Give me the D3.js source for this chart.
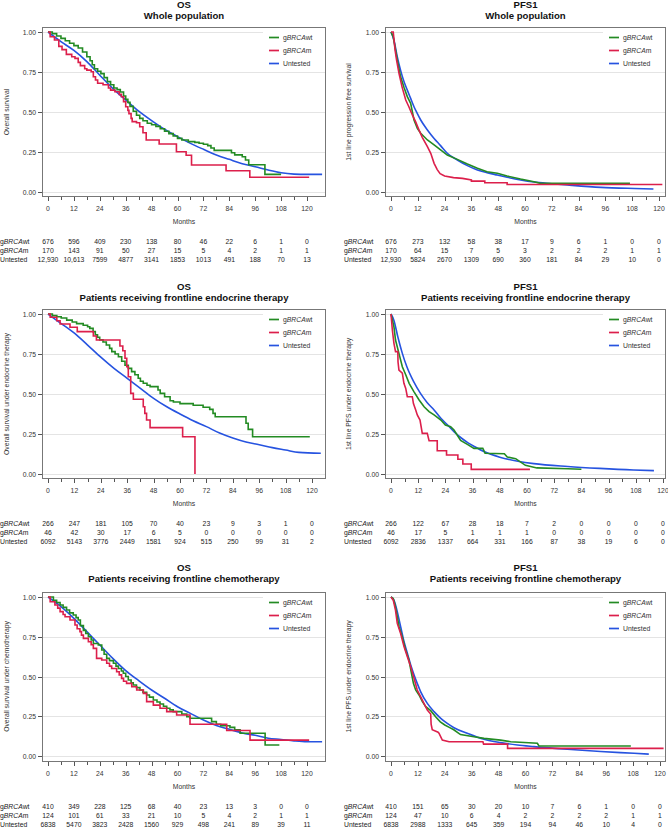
<!DOCTYPE html>
<html><head><meta charset="utf-8">
<script src="https://cdn.jsdelivr.net/npm/d3@7"></script>
<style>
body{margin:0;background:#fff;}
svg{display:block;font-family:"Liberation Sans",Arial,Helvetica,sans-serif;}
</style>
</head><body>
<svg id="c" width="668" height="828"></svg>
<script>
// ---------- shared labels ----------
const monthTicks = [0,12,24,36,48,60,72,84,96,108,120];
const minorTicks = [6,18,30,42,54,66,78,90,102,114];
const yTicks = [0,0.25,0.5,0.75,1];
const groups = ["gBRCAwt","gBRCAm","Untested"];

// ---------- OS, whole population ----------
const os_all_wt = [[0,1],[2,0.99],[4,0.975],[6,0.96],[8,0.945],[10,0.93],[12,0.915],[14,0.9],[16,0.875],[18,0.845],[19.5,0.82],[20.5,0.795],[21.5,0.77],[23,0.755],[24.5,0.74],[26,0.715],[27.5,0.69],[29,0.67],[30.5,0.65],[32,0.64],[33.5,0.625],[35,0.6],[36,0.58],[37,0.56],[38,0.535],[39.5,0.505],[41,0.48],[42.5,0.46],[44,0.445],[46,0.43],[48,0.42],[50,0.41],[52,0.395],[54,0.38],[56,0.365],[58,0.35],[60,0.335],[62,0.325],[65,0.315],[68,0.31],[70,0.305],[72,0.298],[74,0.29],[75.5,0.275],[77,0.26],[85,0.245],[86.5,0.232],[90,0.22],[91.5,0.2],[93,0.17],[100.5,0.11],[108,0.11]];
const os_all_m = [[0,1],[1,0.97],[3,0.95],[5,0.91],[6.5,0.89],[8.5,0.86],[11,0.845],[12.5,0.835],[14,0.81],[15,0.79],[17,0.77],[18,0.762],[20,0.752],[21,0.72],[22,0.7],[23,0.68],[25.5,0.67],[28,0.65],[29,0.637],[31,0.627],[33,0.61],[34,0.595],[35,0.565],[36,0.533],[37,0.51],[37.5,0.49],[38.5,0.46],[39,0.44],[41,0.433],[42.5,0.408],[44,0.37],[45.5,0.325],[51.5,0.3],[59.5,0.252],[64,0.23],[66.5,0.169],[82.5,0.133],[93.5,0.092],[121,0.092]];
const os_all_un = [[0,1],[6,0.94],[12,0.885],[18,0.815],[24,0.73],[30,0.648],[36,0.575],[42,0.505],[48,0.446],[54,0.392],[60,0.346],[66,0.304],[72,0.267],[78,0.232],[84,0.204],[90,0.177],[96,0.158],[102,0.137],[108,0.12],[114,0.112],[120,0.11],[127,0.11]];
const risk_os_all_wt = [676,596,409,230,138,80,46,22,6,1,0];
const risk_os_all_m = [170,143,91,50,27,15,5,4,2,1,1];
const risk_os_all_un = [12930,10613,7599,4877,3141,1853,1013,491,188,70,13];

// ---------- PFS1, whole population ----------
const pfs_all_wt = [[0,1],[1,0.97],[2,0.89],[2.8,0.825],[4.3,0.72],[5.8,0.654],[7.3,0.596],[8.8,0.554],[10.3,0.45],[11.8,0.398],[13.3,0.367],[16.3,0.325],[19.3,0.294],[22.2,0.263],[25.2,0.231],[29.7,0.204],[34.2,0.175],[38.7,0.148],[43,0.127],[47.6,0.117],[52,0.1],[58,0.081],[64,0.064],[67,0.054],[107,0.054]];
const pfs_all_m = [[0,1],[1,1],[1.8,0.89],[2.5,0.825],[3.6,0.74],[5,0.654],[6.6,0.575],[8,0.533],[9.6,0.48],[11,0.44],[12.5,0.388],[14,0.342],[16.3,0.283],[17.8,0.242],[19.3,0.179],[20.7,0.14],[22,0.115],[24,0.1],[28,0.09],[32,0.085],[36,0.075],[36,0.068],[42,0.068],[42,0.058],[52,0.058],[52,0.047],[121.5,0.047]];
const pfs_all_un = [[0,1],[1.3,0.95],[2.8,0.846],[4.3,0.76],[5.8,0.69],[7.3,0.637],[8.8,0.585],[10.3,0.533],[11.8,0.49],[13.3,0.45],[16.3,0.388],[19.3,0.335],[22.2,0.29],[25.2,0.242],[29.7,0.2],[34.2,0.165],[38.7,0.138],[43,0.121],[47.6,0.106],[52,0.092],[58,0.075],[64,0.062],[72,0.052],[79,0.044],[94,0.029],[109,0.022],[117.5,0.019]];
const risk_pfs_all_wt = [676,273,132,58,38,17,9,6,1,0,0];
const risk_pfs_all_m = [170,64,15,7,5,3,2,2,2,1,1];
const risk_pfs_all_un = [12930,5824,2670,1309,690,360,181,84,29,10,0];

// ---------- OS, frontline endocrine therapy ----------
const os_endo_wt = [[0,1],[2,0.99],[4,0.983],[6,0.975],[8.5,0.962],[11,0.95],[13,0.94],[16,0.93],[18,0.92],[19,0.91],[20.5,0.89],[21.5,0.87],[22.5,0.855],[23.5,0.838],[25,0.825],[26.5,0.806],[28,0.785],[29,0.765],[30.5,0.75],[32,0.733],[33.5,0.705],[35,0.68],[36.5,0.66],[38,0.64],[39.5,0.62],[41,0.598],[42,0.58],[43.3,0.567],[45,0.555],[46.4,0.546],[50,0.525],[51,0.504],[53,0.483],[55.5,0.458],[57,0.45],[60,0.44],[66,0.43],[70.5,0.417],[73.5,0.404],[75,0.379],[76,0.358],[90,0.317],[91,0.279],[93,0.233],[119,0.233]];
const os_endo_m = [[0,1],[1,0.98],[4,0.958],[5.5,0.9375],[10,0.917],[13.3,0.89],[20.6,0.8625],[22,0.8375],[32.7,0.8],[34,0.77],[35,0.723],[35.8,0.67],[36.5,0.608],[37.6,0.504],[38.8,0.467],[43.3,0.42],[44,0.379],[44.8,0.3375],[46.4,0.29],[61.2,0.233],[66.8,0]];
const os_endo_un = [[0,1],[6,0.94],[12,0.88],[18,0.806],[24,0.73],[30,0.66],[36,0.598],[42,0.535],[48,0.473],[54,0.42],[60,0.375],[66,0.333],[72,0.296],[78,0.256],[84,0.225],[90,0.2],[96,0.183],[102,0.165],[108,0.15],[114,0.135],[124,0.13]];
const risk_os_endo_wt = [266,247,181,105,70,40,23,9,3,1,0];
const risk_os_endo_m = [46,42,30,17,6,5,0,0,0,0,0];
const risk_os_endo_un = [6092,5143,3776,2449,1581,924,515,250,99,31,2];

// ---------- PFS1, frontline endocrine therapy ----------
const pfs_endo_wt = [[0,1],[1.3,0.92],[2,0.8375],[3.5,0.754],[5,0.67],[6.5,0.62],[8,0.567],[10.1,0.515],[12.4,0.4625],[14.6,0.42],[16.8,0.39],[19,0.369],[22,0.3375],[24,0.306],[26.3,0.296],[27.8,0.275],[30.7,0.21],[33.7,0.185],[36.6,0.16],[40.5,0.16],[41.5,0.13],[50,0.127],[51.3,0.106],[55,0.096],[59.3,0.054],[64.4,0.038],[78,0.033],[84,0.03]];
const pfs_endo_m = [[0,1],[0.6,0.9],[1.3,0.817],[2,0.765],[3,0.765],[3.1,0.7],[3.5,0.65],[5,0.63],[5.7,0.567],[6.5,0.535],[7.2,0.483],[9.4,0.483],[9.9,0.44],[10.9,0.4],[11.6,0.369],[12.8,0.3375],[13.8,0.254],[16,0.254],[16.8,0.208],[20.4,0.208],[20.4,0.145],[24.5,0.145],[24.5,0.119],[29.5,0.119],[29.5,0.092],[31.7,0.092],[31.7,0.0625],[35.4,0.0625],[35.4,0.029],[61.3,0.029]];
const pfs_endo_un = [[0,1],[1.3,0.96],[3,0.858],[5,0.754],[7,0.67],[10,0.577],[13,0.504],[16,0.446],[19,0.4],[22,0.348],[25,0.306],[28,0.262],[31,0.225],[34,0.195],[37,0.17],[41,0.14],[48,0.105],[56,0.08],[63,0.065],[78,0.047],[92,0.035],[107,0.025],[116,0.021]];
const risk_pfs_endo_wt = [266,122,67,28,18,7,2,0,0,0,0];
const risk_pfs_endo_m = [46,17,5,1,1,1,0,0,0,0,0];
const risk_pfs_endo_un = [6092,2836,1337,664,331,166,87,38,19,6,0];

// ---------- OS, frontline chemotherapy ----------
const os_chemo_wt = [[0,1],[2.5,0.98],[4,0.965],[5.6,0.95],[7,0.935],[8.6,0.918],[10,0.9],[11.7,0.887],[13,0.87],[14,0.855],[15,0.82],[16.4,0.79],[17.5,0.77],[18.7,0.75],[20,0.73],[21,0.708],[23.3,0.698],[24.9,0.667],[26,0.64],[27.2,0.614],[28.5,0.6],[30.3,0.583],[31.5,0.565],[32.6,0.55],[34,0.535],[34.9,0.52],[36,0.5],[37.2,0.478],[38.5,0.46],[39.5,0.447],[41,0.43],[42.6,0.415],[44,0.4],[45.7,0.384],[47,0.37],[48.8,0.352],[50.5,0.34],[51.9,0.327],[53.5,0.313],[55,0.3],[56.5,0.29],[58,0.279],[62,0.264],[64.3,0.247],[65.8,0.237],[75.8,0.216],[78,0.2],[80,0.19],[84.3,0.18],[86.5,0.165],[89,0.143],[100.6,0.069],[107.2,0.069]];
const os_chemo_m = [[0,1],[1,0.97],[3.2,0.95],[4.5,0.93],[5.6,0.908],[7,0.89],[7.9,0.876],[10.2,0.855],[12.5,0.824],[13.5,0.8],[14.8,0.782],[15.5,0.76],[16.4,0.74],[18.7,0.719],[20,0.7],[21,0.677],[22.5,0.614],[24.9,0.604],[27.2,0.583],[28.5,0.565],[29.5,0.55],[31.8,0.53],[33,0.51],[34.1,0.488],[35,0.47],[36.4,0.457],[38.8,0.436],[41.1,0.415],[44.2,0.394],[45.7,0.342],[48.8,0.32],[51.9,0.3],[55,0.279],[59.6,0.258],[65.8,0.2],[82.8,0.16],[93.6,0.1],[121,0.1]];
const os_chemo_un = [[0,1],[6,0.94],[12,0.866],[18,0.782],[24,0.698],[30,0.614],[36,0.537],[42,0.474],[48,0.415],[54,0.363],[60,0.31],[66,0.268],[72,0.226],[78,0.192],[84,0.168],[90,0.145],[96,0.13],[102,0.112],[108,0.104],[114,0.095],[120,0.09],[127,0.09]];
const risk_os_chemo_wt = [410,349,228,125,68,40,23,13,3,0,0];
const risk_os_chemo_m = [124,101,61,33,21,10,5,4,2,1,1];
const risk_os_chemo_un = [6838,5470,3823,2428,1560,929,498,241,89,39,11];

// ---------- PFS1, frontline chemotherapy ----------
const pfs_chemo_wt = [[0,1],[1,0.99],[1.8,0.95],[2.8,0.876],[3.6,0.813],[5,0.75],[6.5,0.667],[8,0.604],[9,0.53],[10,0.457],[11,0.415],[12.5,0.384],[14,0.342],[15.5,0.31],[17.7,0.285],[20,0.245],[22,0.215],[24,0.195],[26,0.18],[28,0.165],[31,0.135],[37,0.121],[41.5,0.111],[48.9,0.1],[53.4,0.09],[65.3,0.08],[66,0.063],[107,0.063]];
const pfs_chemo_m = [[0,1],[1,0.98],[2,0.918],[2.8,0.834],[4.3,0.77],[5.8,0.688],[7.3,0.625],[8.8,0.562],[10.3,0.488],[11.7,0.415],[13.2,0.373],[14.7,0.331],[16.2,0.289],[17.7,0.264],[17.9,0.2],[18.4,0.165],[21,0.15],[21.4,0.143],[22.9,0.1],[25.9,0.09],[41,0.09],[41.3,0.075],[52,0.075],[52,0.048],[121.6,0.048]];
const pfs_chemo_un = [[0,1],[1.3,0.98],[2.8,0.908],[4.3,0.813],[5.8,0.72],[7.3,0.646],[8.8,0.572],[10.3,0.509],[11.7,0.457],[13.2,0.405],[16.2,0.331],[19.2,0.279],[22.2,0.237],[25.1,0.205],[28.1,0.178],[34,0.143],[41.5,0.105],[48.9,0.084],[56.4,0.069],[63.8,0.059],[78.7,0.042],[93.5,0.028],[108.4,0.017],[115,0.012]];
const risk_pfs_chemo_wt = [410,151,65,30,20,10,7,6,1,0,0];
const risk_pfs_chemo_m = [124,47,10,6,4,2,2,2,2,1,1];
const risk_pfs_chemo_un = [6838,2988,1333,645,359,194,94,46,10,4,0];

// ---------- layout & style ----------
const colors = ["#238b23","#dc1f4b","#2653e0"];
const panels = [
  {t1:"OS",  t2:"Whole population", ylab:"Overall survival", L:42,R:326,T:27,B:197,x0:48,x120:307,y1:32,y0:192,tY:7.5, riskX:0, ylabX:9, step:true,
   series:[os_all_wt,os_all_m,os_all_un], risk:[risk_os_all_wt,risk_os_all_m,risk_os_all_un]},
  {t1:"PFS1",t2:"Whole population", ylab:"1st line progression free survival", L:385,R:666,T:27,B:197,x0:391,x120:659,y1:32,y0:192,tY:7.5, riskX:344, ylabX:351, step:false,
   series:[pfs_all_wt,pfs_all_m,pfs_all_un], risk:[risk_pfs_all_wt,risk_pfs_all_m,risk_pfs_all_un]},
  {t1:"OS",  t2:"Patients receiving frontline endocrine therapy", ylab:"Overall survival under endocrine therapy", L:42,R:326,T:309,B:479,x0:48,x120:312,y1:314,y0:474,tY:289.5, riskX:0, ylabX:9, step:true,
   series:[os_endo_wt,os_endo_m,os_endo_un], risk:[risk_os_endo_wt,risk_os_endo_m,risk_os_endo_un]},
  {t1:"PFS1",t2:"Patients receiving frontline endocrine therapy", ylab:"1st line PFS under endocrine therapy", L:385,R:666,T:309,B:479,x0:391,x120:663,y1:314,y0:474,tY:289.5, riskX:344, ylabX:351, step:false,
   series:[pfs_endo_wt,pfs_endo_m,pfs_endo_un], risk:[risk_pfs_endo_wt,risk_pfs_endo_m,risk_pfs_endo_un]},
  {t1:"OS",  t2:"Patients receiving frontline chemotherapy", ylab:"Overall survival under chemotherapy", L:42,R:326,T:592,B:762,x0:48,x120:307,y1:597,y0:756,tY:571, riskX:0, ylabX:9, step:true,
   series:[os_chemo_wt,os_chemo_m,os_chemo_un], risk:[risk_os_chemo_wt,risk_os_chemo_m,risk_os_chemo_un]},
  {t1:"PFS1",t2:"Patients receiving frontline chemotherapy", ylab:"1st line PFS under endocrine therapy", L:385,R:666,T:592,B:762,x0:391,x120:660,y1:597,y0:756,tY:571, riskX:344, ylabX:351, step:false,
   series:[pfs_chemo_wt,pfs_chemo_m,pfs_chemo_un], risk:[risk_pfs_chemo_wt,risk_pfs_chemo_m,risk_pfs_chemo_un]}
];

const svg = d3.select("#c");
const small = 6.8;

function groupLabel(sel, name){
  const m = name.match(/^g(BRCA)(.*)$/);
  if(m){
    sel.append("tspan").text("g");
    sel.append("tspan").attr("font-style","italic").text("BRCA");
    sel.append("tspan").text(m[2]);
  } else sel.text(name);
}
const fmtRisk = n => n >= 10000 ? d3.format(",")(n) : String(n);

panels.forEach(p => {
  const g = svg.append("g");
  const x = d3.scaleLinear().domain([0,120]).range([p.x0,p.x120]);
  const y = d3.scaleLinear().domain([0,1]).range([p.y0,p.y1]);
  const cx = (p.L+p.R)/2;

  g.append("text").attr("x",cx).attr("y",p.tY).attr("text-anchor","middle")
    .attr("font-size",9.6).attr("font-weight","bold").attr("fill","#111").text(p.t1);
  g.append("text").attr("x",cx).attr("y",p.tY+11).attr("text-anchor","middle")
    .attr("font-size",9.6).attr("font-weight","bold").attr("fill","#111").text(p.t2);

  g.selectAll("line.grid").data(yTicks).enter().append("line")
    .attr("x1",p.L).attr("x2",p.R)
    .attr("y1",d=>Math.round(y(d))+0.5).attr("y2",d=>Math.round(y(d))+0.5)
    .attr("stroke","#e4e4e4").attr("stroke-width",1);

  yTicks.forEach(t=>{
    const yy = Math.round(y(t))+0.5;
    g.append("line").attr("x1",p.L-4).attr("x2",p.L).attr("y1",yy).attr("y2",yy).attr("stroke","#555");
    g.append("text").attr("x",p.L-6).attr("y",yy+2.4).attr("text-anchor","end")
      .attr("font-size",small).attr("fill","#333").text(d3.format(".2f")(t));
  });
  monthTicks.forEach(t=>{
    const xx = Math.round(x(t))+0.5;
    g.append("line").attr("x1",xx).attr("x2",xx).attr("y1",p.B).attr("y2",p.B+4).attr("stroke","#555");
    g.append("text").attr("x",x(t)).attr("y",p.B+13.5).attr("text-anchor","middle")
      .attr("font-size",small).attr("fill","#333").text(t);
  });
  minorTicks.forEach(t=>{
    const xx = Math.round(x(t))+0.5;
    g.append("line").attr("x1",xx).attr("x2",xx).attr("y1",p.B).attr("y2",p.B+3).attr("stroke","#555");
  });
  g.append("text").attr("x",cx).attr("y",p.B+27).attr("text-anchor","middle")
    .attr("font-size",small).attr("fill","#333").text("Months");

  g.append("text").attr("transform",`translate(${p.ylabX},${(p.y0+p.y1)/2}) rotate(-90)`)
    .attr("text-anchor","middle").attr("font-size",small).attr("fill","#333").text(p.ylab);

  g.append("rect").attr("x",p.R-63).attr("y",p.T+1).attr("width",62).attr("height",43).attr("fill","#fff");

  const clipId = "clip"+p.T+"_"+p.L;
  svg.append("clipPath").attr("id",clipId).append("rect")
    .attr("x",p.L).attr("y",p.T).attr("width",p.R-p.L).attr("height",p.B-p.T);
  const lineStep = d3.line().x(d=>x(d[0])).y(d=>y(d[1])).curve(d3.curveStepAfter);
  const lineLin = d3.line().x(d=>x(d[0])).y(d=>y(d[1])).curve(d3.curveLinear);
  const lineSmooth = d3.line().x(d=>x(d[0])).y(d=>y(d[1])).curve(d3.curveMonotoneX);
  [2,0,1].forEach(i=>{
    const gen = i===2 ? lineSmooth : (p.step ? lineStep : lineLin);
    g.append("path").attr("d",gen(p.series[i])).attr("fill","none")
      .attr("stroke",colors[i]).attr("stroke-width",1.6)
      .attr("stroke-linejoin","miter").attr("clip-path",`url(#${clipId})`);
  });

  g.append("rect").attr("x",p.L+0.5).attr("y",p.T+0.5).attr("width",p.R-p.L-1).attr("height",p.B-p.T-1)
    .attr("fill","none").attr("stroke","#777").attr("stroke-width",1);

  groups.forEach((name,i)=>{
    const ly = p.T+10.5+i*13;
    g.append("line").attr("x1",p.R-57).attr("x2",p.R-47).attr("y1",ly).attr("y2",ly)
      .attr("stroke",colors[i]).attr("stroke-width",1.7);
    const t = g.append("text").attr("x",p.R-43).attr("y",ly+2.4).attr("font-size",small).attr("fill","#333");
    groupLabel(t,name);
  });

  groups.forEach((name,i)=>{
    const ry = p.B+47+i*9;
    const t = g.append("text").attr("x",p.riskX).attr("y",ry).attr("font-size",small).attr("fill","#222");
    groupLabel(t,name);
    p.risk[i].forEach((n,j)=>{
      g.append("text").attr("x",x(monthTicks[j])).attr("y",ry).attr("text-anchor","middle")
        .attr("font-size",small).attr("fill","#222").text(fmtRisk(n));
    });
  });
});
</script>
</body></html>
